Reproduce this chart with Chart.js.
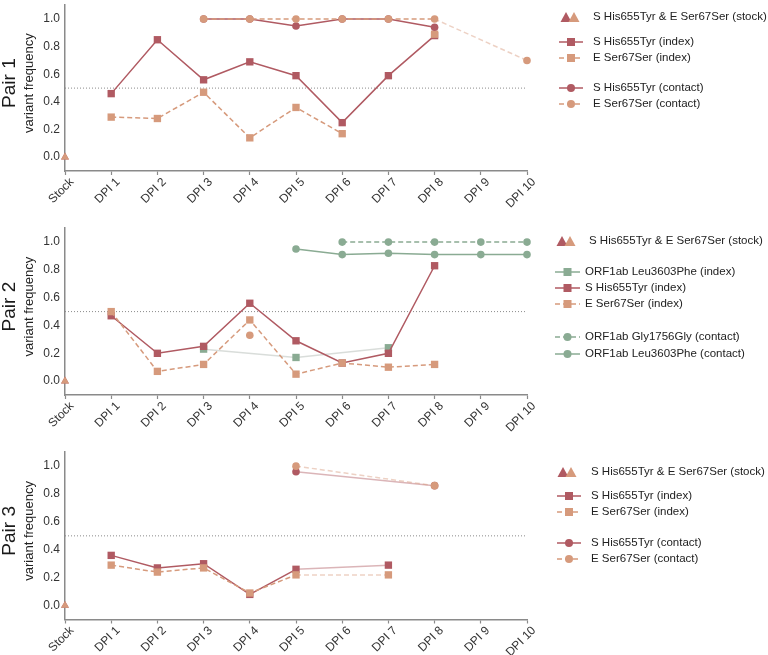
<!DOCTYPE html>
<html><head><meta charset="utf-8">
<script src="https://cdn.jsdelivr.net/npm/chart.js@4.4.0/dist/chart.umd.min.js"></script>
<style>
html,body{margin:0;padding:0;background:#fff;}
#wrap{position:relative;width:768px;height:655px;overflow:hidden;background:#fff;}
canvas{position:absolute;left:0;}
</style></head><body>
<div id="wrap">
<canvas id="c1" width="768" height="223" style="top:0px"></canvas>
<canvas id="c2" width="768" height="224" style="top:223px"></canvas>
<canvas id="c3" width="768" height="208" style="top:447px"></canvas>
</div>
<script>
// ---------- data ----------
const categories = ['Stock','DPI 1','DPI 2','DPI 3','DPI 4','DPI 5','DPI 6','DPI 7','DPI 8','DPI 9','DPI 10'];
const yTickValues = [0, 0.2, 0.4, 0.6, 0.8, 1.0];
const thresholdValue = 0.5;

// Pair 1
const p1StockS    = [0, null, null, null, null, null, null, null, null, null, null];
const p1StockE    = [0, null, null, null, null, null, null, null, null, null, null];
const p1SIndex    = [null, 0.46, 0.85, 0.56, 0.69, 0.59, 0.25, 0.59, 0.88, null, null];
const p1EIndex    = [null, 0.29, 0.28, 0.47, 0.14, 0.36, 0.17, null, 0.89, null, null];
const p1SContact  = [null, null, null, 1.0, 1.0, 0.95, 1.0, 1.0, 0.94, null, null];
const p1EContact  = [null, null, null, 1.0, 1.0, 1.0, 1.0, 1.0, 1.0, null, 0.70];

// Pair 2
const p2StockS      = [0, null, null, null, null, null, null, null, null, null, null];
const p2StockE      = [0, null, null, null, null, null, null, null, null, null, null];
const p2OrfLeuIndex = [null, null, null, 0.23, null, 0.17, null, 0.24, null, null, null];
const p2SIndex      = [null, 0.47, 0.20, 0.25, 0.56, 0.29, 0.13, 0.20, 0.83, null, null];
const p2EIndex      = [null, 0.50, 0.07, 0.12, 0.44, 0.05, 0.13, 0.10, 0.12, null, null];
const p2EContact    = [null, null, null, null, 0.33, null, null, null, null, null, null];
const p2OrfGlyContact = [null, null, null, null, null, null, 1.0, 1.0, 1.0, 1.0, 1.0];
const p2OrfLeuContact = [null, null, null, null, null, 0.95, 0.91, 0.92, 0.91, 0.91, 0.91];

// Pair 3
const p3StockS    = [0, null, null, null, null, null, null, null, null, null, null];
const p3StockE    = [0, null, null, null, null, null, null, null, null, null, null];
const p3SIndex    = [null, 0.36, 0.27, 0.30, 0.08, 0.26, null, 0.29, null, null, null];
const p3EIndex    = [null, 0.29, 0.24, 0.27, 0.09, 0.22, null, 0.22, null, null, null];
const p3SContact  = [null, null, null, null, null, 0.96, null, null, 0.86, null, null];
const p3EContact  = [null, null, null, null, null, 1.0, null, null, 0.86, null, null];

// ---------- styles ----------
const FONT = "'Liberation Sans', Arial, Helvetica, sans-serif";
const RED = '#b05a62', RED_L = 'rgba(176,90,98,0.45)';
const ORANGE = '#d69a7c', ORANGE_L = 'rgba(214,154,124,0.45)';
const GREEN = '#8aab93', GREEN_L = 'rgba(170,180,174,0.45)';
const AXIS = '#8a8a8a';
const TXT = '#333333';

function series(data, color, light, style, dashed, order, spanGaps) {
  const r = style === 'rect' ? 5.2 : (style === 'circle' ? 3.8 : 4.6);
  return {
    data, borderColor: color, backgroundColor: color,
    pointBackgroundColor: color, pointBorderColor: color, pointBorderWidth: 0,
    pointStyle: style, pointRadius: r, pointHoverRadius: r,
    borderWidth: 1.5, borderDash: dashed ? [5, 3] : [],
    spanGaps: spanGaps !== false, order, clip: false, tension: 0,
    showLine: style !== 'triangle',
    segment: { borderColor: ctx => (ctx.p0.skip || ctx.p1.skip) ? light : undefined }
  };
}
function thresholdDs() {
  return { data: categories.map(() => thresholdValue), borderColor: '#8a8a8a', borderWidth: 1,
    borderDash: [1, 2], pointRadius: 0, order: 100, clip: false };
}

function titlePlugin(title) {
  return { id: 'ttl', afterDraw(chart) {
    const ctx = chart.ctx, ca = chart.chartArea;
    const cy = (ca.top + ca.bottom) / 2 - 5;
    ctx.save();
    ctx.textAlign = 'center'; ctx.textBaseline = 'alphabetic';
    ctx.translate(15, cy); ctx.rotate(-Math.PI / 2);
    ctx.fillStyle = '#1a1a1a'; ctx.font = '19px ' + FONT;
    ctx.fillText(title, 0, 0);
    ctx.restore();
    ctx.save();
    ctx.textAlign = 'center'; ctx.textBaseline = 'alphabetic';
    ctx.translate(33, cy); ctx.rotate(-Math.PI / 2);
    ctx.fillStyle = '#222'; ctx.font = '13px ' + FONT;
    ctx.fillText('variant frequency', 0, 0);
    ctx.restore();
  }};
}

function drawTri(ctx, cx, cy, color) {
  ctx.beginPath();
  ctx.moveTo(cx - 5.5, cy + 5); ctx.lineTo(cx + 5.5, cy + 5); ctx.lineTo(cx, cy - 5); ctx.closePath();
  ctx.fillStyle = color; ctx.fill();
}
function legendPlugin(L) {
  return { id: 'lg', afterDraw(chart) {
    const ctx = chart.ctx;
    ctx.save();
    ctx.font = '11.5px ' + FONT; ctx.textBaseline = 'middle'; ctx.textAlign = 'left';
    for (const it of L.items) {
      if (it.stock) {
        drawTri(ctx, L.triX[0], it.y, RED);
        drawTri(ctx, L.triX[1], it.y, ORANGE);
        ctx.fillStyle = '#222'; ctx.fillText(it.text, L.stockTextX, it.y);
        continue;
      }
      ctx.strokeStyle = it.color; ctx.lineWidth = 1.5;
      ctx.setLineDash(it.dashed ? [5, 3] : []);
      ctx.beginPath(); ctx.moveTo(L.x0, it.y); ctx.lineTo(L.x1, it.y); ctx.stroke();
      ctx.setLineDash([]);
      const mx = (L.x0 + L.x1) / 2;
      ctx.fillStyle = it.color;
      if (it.style === 'rect') { ctx.fillRect(mx - 4, it.y - 4, 8, 8); }
      else { ctx.beginPath(); ctx.arc(mx, it.y, 4, 0, Math.PI * 2); ctx.fill(); }
      ctx.fillStyle = '#222'; ctx.fillText(it.text, L.textX, it.y);
    }
    ctx.restore();
  }};
}

function makeChart(id, cfg) {
  const canvas = document.getElementById(id);
  const H = canvas.height;
  return new Chart(canvas, {
    type: 'line',
    data: { labels: categories, datasets: [thresholdDs(), ...cfg.datasets] },
    options: {
      responsive: false, animation: false, devicePixelRatio: 1,
      layout: { padding: { left: 0, right: 241, top: cfg.top, bottom: 0 } },
      plugins: { legend: { display: false }, tooltip: { enabled: false } },
      events: [],
      scales: {
        x: {
          type: 'category', offset: false,
          grid: { display: true, drawOnChartArea: false, drawTicks: true, tickLength: 4, tickColor: AXIS, tickWidth: 1.2 },
          border: { display: true, color: AXIS, width: 1.5 },
          ticks: { autoSkip: false, minRotation: 45, maxRotation: 45, color: TXT, font: { family: FONT, size: 12 }, padding: 0, labelOffset: 7 },
          afterFit: s => { s.height = H - cfg.bottom; s.paddingLeft = 0; s.paddingRight = 0; }
        },
        y: {
          min: -0.1, max: 1.1,
          afterBuildTicks: s => { s.ticks = yTickValues.map(v => ({ value: v })); },
          grid: { display: false, drawTicks: false },
          border: { display: true, color: AXIS, width: 1.5 },
          ticks: { color: TXT, font: { family: FONT, size: 12 }, padding: 5, callback: v => Number(v).toFixed(1) },
          afterFit: s => { s.width = 65; s.paddingTop = 0; s.paddingBottom = 0; }
        }
      }
    },
    plugins: [titlePlugin(cfg.title), legendPlugin(cfg.legend)]
  });
}

// ---------- Pair 1 ----------
makeChart('c1', {
  title: 'Pair 1', top: 1, bottom: 171,
  datasets: [
    series(p1StockE, ORANGE, ORANGE_L, 'triangle', false, 0),
    series(p1StockS, RED, RED_L, 'triangle', false, 0.5),
    series(p1EContact, ORANGE, ORANGE_L, 'circle', true, 1),
    series(p1SContact, RED, RED_L, 'circle', false, 2),
    series(p1EIndex, ORANGE, ORANGE_L, 'rect', true, 3, false),
    series(p1SIndex, RED, RED_L, 'rect', false, 4)
  ],
  legend: { triX: [566, 574], stockTextX: 593, x0: 559, x1: 583, textX: 593, items: [
    { stock: true, y: 17, text: 'S His655Tyr & E Ser67Ser (stock)' },
    { y: 42, color: RED, style: 'rect', dashed: false, text: 'S His655Tyr (index)' },
    { y: 58, color: ORANGE, style: 'rect', dashed: true, text: 'E Ser67Ser (index)' },
    { y: 88, color: RED, style: 'circle', dashed: false, text: 'S His655Tyr (contact)' },
    { y: 104, color: ORANGE, style: 'circle', dashed: true, text: 'E Ser67Ser (contact)' }
  ]}
});

// ---------- Pair 2 ----------
makeChart('c2', {
  title: 'Pair 2', top: 1, bottom: 172,
  datasets: [
    series(p2StockE, ORANGE, ORANGE_L, 'triangle', false, 0),
    series(p2StockS, RED, RED_L, 'triangle', false, 0.5),
    series(p2OrfGlyContact, GREEN, GREEN_L, 'circle', true, 1),
    series(p2OrfLeuContact, GREEN, GREEN_L, 'circle', false, 2),
    series(p2EContact, ORANGE, ORANGE_L, 'circle', true, 2.5),
    series(p2EIndex, ORANGE, ORANGE_L, 'rect', true, 3),
    series(p2SIndex, RED, RED_L, 'rect', false, 4),
    series(p2OrfLeuIndex, GREEN, GREEN_L, 'rect', false, 5)
  ],
  legend: { triX: [562, 570], stockTextX: 589, x0: 555, x1: 580, textX: 585, items: [
    { stock: true, y: 18, text: 'S His655Tyr & E Ser67Ser (stock)' },
    { y: 49, color: GREEN, style: 'rect', dashed: false, text: 'ORF1ab Leu3603Phe (index)' },
    { y: 65, color: RED, style: 'rect', dashed: false, text: 'S His655Tyr (index)' },
    { y: 81, color: ORANGE, style: 'rect', dashed: true, text: 'E Ser67Ser (index)' },
    { y: 114, color: GREEN, style: 'circle', dashed: true, text: 'ORF1ab Gly1756Gly (contact)' },
    { y: 131, color: GREEN, style: 'circle', dashed: false, text: 'ORF1ab Leu3603Phe (contact)' }
  ]}
});

// ---------- Pair 3 ----------
makeChart('c3', {
  title: 'Pair 3', top: 1, bottom: 172.5,
  datasets: [
    series(p3StockE, ORANGE, ORANGE_L, 'triangle', false, 0),
    series(p3StockS, RED, RED_L, 'triangle', false, 0.5),
    series(p3EContact, ORANGE, ORANGE_L, 'circle', true, 1),
    series(p3SContact, RED, RED_L, 'circle', false, 2),
    series(p3EIndex, ORANGE, ORANGE_L, 'rect', true, 3),
    series(p3SIndex, RED, RED_L, 'rect', false, 4)
  ],
  legend: { triX: [563, 571], stockTextX: 591, x0: 557, x1: 581, textX: 591, items: [
    { stock: true, y: 25, text: 'S His655Tyr & E Ser67Ser (stock)' },
    { y: 49, color: RED, style: 'rect', dashed: false, text: 'S His655Tyr (index)' },
    { y: 65, color: ORANGE, style: 'rect', dashed: true, text: 'E Ser67Ser (index)' },
    { y: 96, color: RED, style: 'circle', dashed: false, text: 'S His655Tyr (contact)' },
    { y: 112, color: ORANGE, style: 'circle', dashed: true, text: 'E Ser67Ser (contact)' }
  ]}
});
</script>
</body></html>
